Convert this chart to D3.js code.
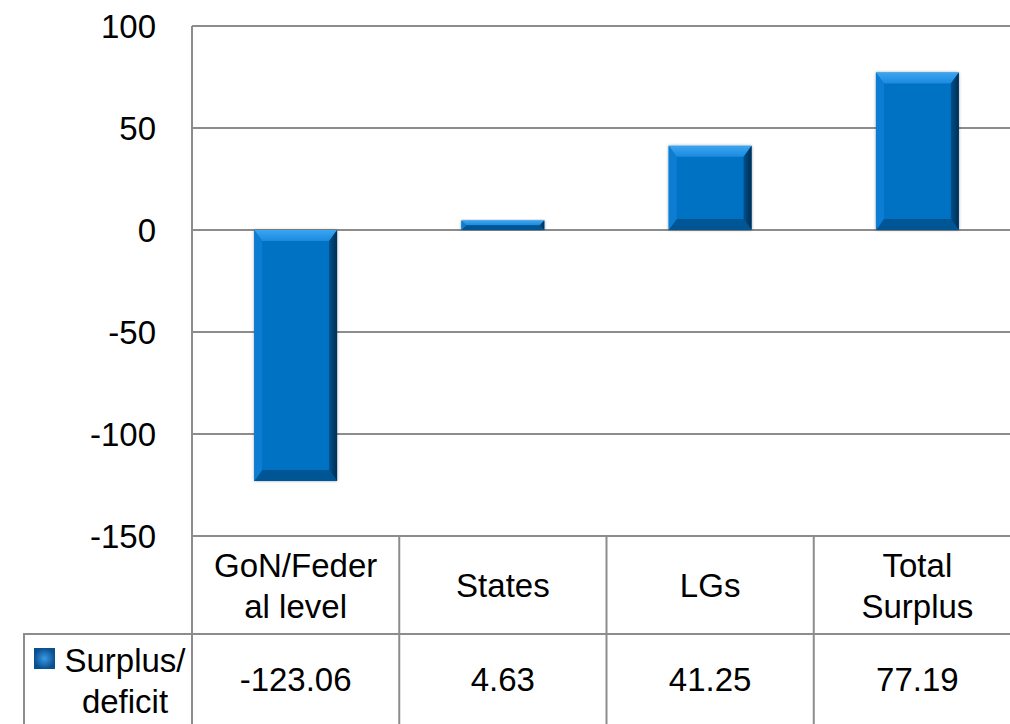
<!DOCTYPE html>
<html><head><meta charset="utf-8">
<script src="https://cdn.jsdelivr.net/npm/d3@7"></script>
<style>body{margin:0;background:#fff}svg{display:block}text{font-family:"Liberation Sans",Arial,sans-serif;fill:#000}</style>
</head><body>
<svg id="c" width="1010" height="724"></svg>
<script>
const categories = [["GoN/Feder","al level"],["States"],["LGs"],["Total","Surplus"]];
const values = [-123.06, 4.63, 41.25, 77.19];
const valueLabels = ["-123.06","4.63","41.25","77.19"];
const yTicks = [100, 50, 0, -50, -100, -150];
const seriesName = ["Surplus/","deficit"];

const svg = d3.select("#c");
const pLeft = 192, pTop = 26, pBottom = 536, pRight = 1021;
const y = d3.scaleLinear().domain([-150, 100]).range([pBottom, pTop]);
const x = d3.scaleBand().domain(d3.range(categories.length)).range([pLeft, pRight]).paddingInner(0).paddingOuter(0);
const barW = x.bandwidth() * 0.4;
const grid = "#8c8c8c";

const defs = svg.append("defs");
const f = defs.append("filter").attr("id","sh").attr("x","-10%").attr("y","-10%").attr("width","120%").attr("height","120%");
f.append("feGaussianBlur").attr("in","SourceAlpha").attr("stdDeviation",1.6).attr("result","b");
f.append("feComponentTransfer").attr("in","b").attr("result","b2").append("feFuncA").attr("type","linear").attr("slope",0.35);
const m = f.append("feMerge"); m.append("feMergeNode").attr("in","b2"); m.append("feMergeNode").attr("in","SourceGraphic");
const tg = defs.append("linearGradient").attr("id","tg").attr("x1",0).attr("y1",0).attr("x2",0).attr("y2",1);
tg.append("stop").attr("offset",0).attr("stop-color","#3aa6f2");
tg.append("stop").attr("offset",1).attr("stop-color","#1c8ade");
const rg = defs.append("linearGradient").attr("id","rg").attr("x1",0).attr("y1",0).attr("x2",1).attr("y2",0);
rg.append("stop").attr("offset",0).attr("stop-color","#05508c");
rg.append("stop").attr("offset",1).attr("stop-color","#022e52");
const sw = defs.append("radialGradient").attr("id","sw");
sw.append("stop").attr("offset",0).attr("stop-color","#3a9ae6");
sw.append("stop").attr("offset",1).attr("stop-color","#0a4f8e");

// gridlines
svg.append("g").selectAll("line").data(yTicks.filter(t => t > -150)).join("line")
  .attr("x1", pLeft).attr("x2", 1010).attr("y1", d => y(d)).attr("y2", d => y(d))
  .attr("stroke", grid).attr("stroke-width", 2);

// y labels
svg.append("g").selectAll("text").data(yTicks).join("text")
  .attr("x", 156).attr("y", d => y(d) + 12).attr("text-anchor","end")
  .attr("font-size", 33).text(d => d);

// bars
const bars = svg.append("g").selectAll("g").data(values).join("g").attr("filter","url(#sh)");
bars.each(function(v, i) {
  const g = d3.select(this);
  const x0 = x(i) + (x.bandwidth() - barW) / 2, x1 = x0 + barW;
  const y0 = Math.min(y(v), y(0)), y1 = Math.max(y(v), y(0));
  const h = y1 - y0;
  const b = Math.min(11, h / 2), s = Math.min(8, h / 2);
  g.append("rect").attr("x", x0).attr("y", y0).attr("width", barW).attr("height", h).attr("fill", "#0672c4");
  g.append("polygon").attr("points", [[x0,y0],[x1,y0],[x1-s,y0+b],[x0+s,y0+b]].join(" ")).attr("fill","url(#tg)");
  g.append("polygon").attr("points", [[x0,y1],[x1,y1],[x1-s,y1-b],[x0+s,y1-b]].join(" ")).attr("fill","#045594");
  g.append("polygon").attr("points", [[x0,y0],[x0+s,y0+b],[x0+s,y1-b],[x0,y1]].join(" ")).attr("fill","#0a7dd4");
  g.append("polygon").attr("points", [[x1,y0],[x1-s,y0+b],[x1-s,y1-b],[x1,y1]].join(" ")).attr("fill","url(#rg)");
});

// table lines
const T = svg.append("g").attr("stroke", grid).attr("stroke-width", 2);
T.append("line").attr("x1", pLeft).attr("x2", pLeft).attr("y1", pTop).attr("y2", 724);
T.append("line").attr("x1", pLeft).attr("x2", 1010).attr("y1", pBottom).attr("y2", pBottom);
T.append("line").attr("x1", 23).attr("x2", 1010).attr("y1", 634).attr("y2", 634);
T.append("line").attr("x1", 24).attr("x2", 24).attr("y1", 634).attr("y2", 724);
T.selectAll("line.v").data(d3.range(1, categories.length)).join("line").attr("class","v")
  .attr("x1", d => x(d)).attr("x2", d => x(d)).attr("y1", pBottom).attr("y2", 724);

// header labels
const hc = (pBottom + 634) / 2;
svg.append("g").selectAll("text").data(categories).join("text")
  .attr("text-anchor","middle").attr("font-size", 33)
  .each(function(lines, i) {
    const t = d3.select(this);
    lines.forEach((ln, k) => {
      t.append("tspan").attr("x", x(i) + x.bandwidth()/2)
        .attr("y", hc + 12 + (k - (lines.length - 1) / 2) * 41).text(ln);
    });
  });

// values
const vc = (634 + 724) / 2;
svg.append("g").selectAll("text").data(valueLabels).join("text")
  .attr("text-anchor","middle").attr("font-size", 33)
  .attr("x", (d, i) => x(i) + x.bandwidth()/2).attr("y", vc + 12).text(d => d);

// legend cell
svg.append("rect").attr("x", 34).attr("y", 648).attr("width", 21).attr("height", 21).attr("fill","url(#sw)");
const lt = svg.append("text").attr("text-anchor","middle").attr("font-size", 33);
seriesName.forEach((ln, k) => lt.append("tspan").attr("x", 125).attr("y", 672 + k * 41).text(ln));
</script>
</body></html>
